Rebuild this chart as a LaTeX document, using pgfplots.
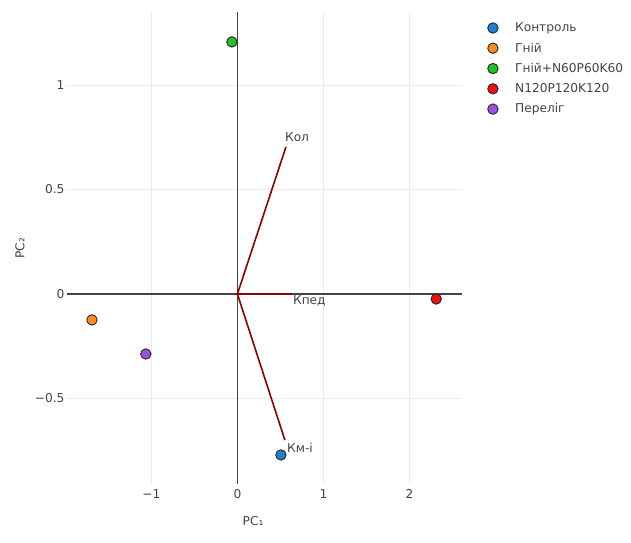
\documentclass[border=0pt]{standalone}
\usepackage{fontspec}
\setmainfont{DejaVu Sans}
\usepackage{pgfplots}
\pgfplotsset{compat=1.18}
\definecolor{txt}{HTML}{444444}
\definecolor{cblue}{HTML}{1F7FD0}
\definecolor{corange}{HTML}{FF8C1A}
\definecolor{cgreen}{HTML}{22C022}
\definecolor{cred}{HTML}{EE1111}
\definecolor{cpurple}{HTML}{9B50E0}
\definecolor{load}{HTML}{8B0000}
\definecolor{zl}{HTML}{444444}
\definecolor{gr}{HTML}{EBEBEB}
\begin{document}
\begin{tikzpicture}
\path (0pt,0pt) rectangle (631pt,542pt);
\begin{axis}[
  at={(67pt,58pt)}, anchor=south west,
  scale only axis, width=395pt, height=472pt,
  xmin=-1.98, xmax=2.61, ymin=-0.909, ymax=1.349,
  axis line style={draw=none},
  major tick length=0pt,
  xtick={-1,0,1,2}, xticklabels={−1,0,1,2},
  ytick={-0.5,0,0.5,1}, yticklabels={−0.5,0,0.5,1},
  tick label style={font=\fontsize{12.2}{14}\selectfont, text=txt},
  xticklabel style={yshift=-2pt},
  yticklabel style={xshift=1pt},
  grid=major, grid style={gr, line width=0.8pt},
  xlabel={PC₁}, ylabel={PC₂},
  label style={font=\fontsize{12.2}{14}\selectfont, text=txt},
  xlabel style={at={(axis description cs:0.471,-0.078)}, anchor=center},
  ylabel style={at={(axis description cs:-0.119,0.5)}, anchor=center},
  clip=false,
  legend style={at={(1.057,0.986)}, anchor=north west, draw=none, fill=none,
    font=\fontsize{12.2}{14}\selectfont, text=txt, row sep=5.6pt,
    legend cell align=left, /tikz/every odd column/.append style={column sep=15pt}},
]
% zero lines
\addplot[zl, line width=1.3pt, forget plot] coordinates {(-1.98,0) (2.61,0)};
\addplot[zl, line width=1.3pt, forget plot] coordinates {(0,-0.909) (0,1.349)};
% loadings
\addplot[load, line width=1.6pt, forget plot] coordinates {(0,0) (0.564,0.703)};
\addplot[load, line width=1.6pt, forget plot] coordinates {(0,0) (0.634,0)};
\addplot[load, line width=1.6pt, forget plot] coordinates {(0,0) (0.552,-0.699)};
\node[anchor=west, text=txt, font=\fontsize{12.2}{14}\selectfont, inner sep=0pt] at (axis cs:0.552,0.751) {Кол};
\node[anchor=west, text=txt, font=\fontsize{12.2}{14}\selectfont, inner sep=0pt] at (axis cs:0.645,-0.033) {Кпед};
\node[anchor=west, text=txt, font=\fontsize{12.2}{14}\selectfont, inner sep=0pt] at (axis cs:0.576,-0.735) {Км-і};
% scores
\addplot[only marks, mark=*, mark size=5.2pt, mark options={fill=cblue, draw=black!85, line width=0.9pt}] coordinates {(0.506,-0.770)};
\addlegendentry{Контроль}
\addplot[only marks, mark=*, mark size=5.2pt, mark options={fill=corange, draw=black!85, line width=0.9pt}] coordinates {(-1.69,-0.124)};
\addlegendentry{Гній}
\addplot[only marks, mark=*, mark size=5.2pt, mark options={fill=cgreen, draw=black!85, line width=0.9pt}] coordinates {(-0.064,1.206)};
\addlegendentry{Гній+N60P60K60}
\addplot[only marks, mark=*, mark size=5.2pt, mark options={fill=cred, draw=black!85, line width=0.9pt}] coordinates {(2.31,-0.024)};
\addlegendentry{N120P120K120}
\addplot[only marks, mark=*, mark size=5.2pt, mark options={fill=cpurple, draw=black!85, line width=0.9pt}] coordinates {(-1.064,-0.287)};
\addlegendentry{Переліг}
\end{axis}
\end{tikzpicture}
\end{document}
